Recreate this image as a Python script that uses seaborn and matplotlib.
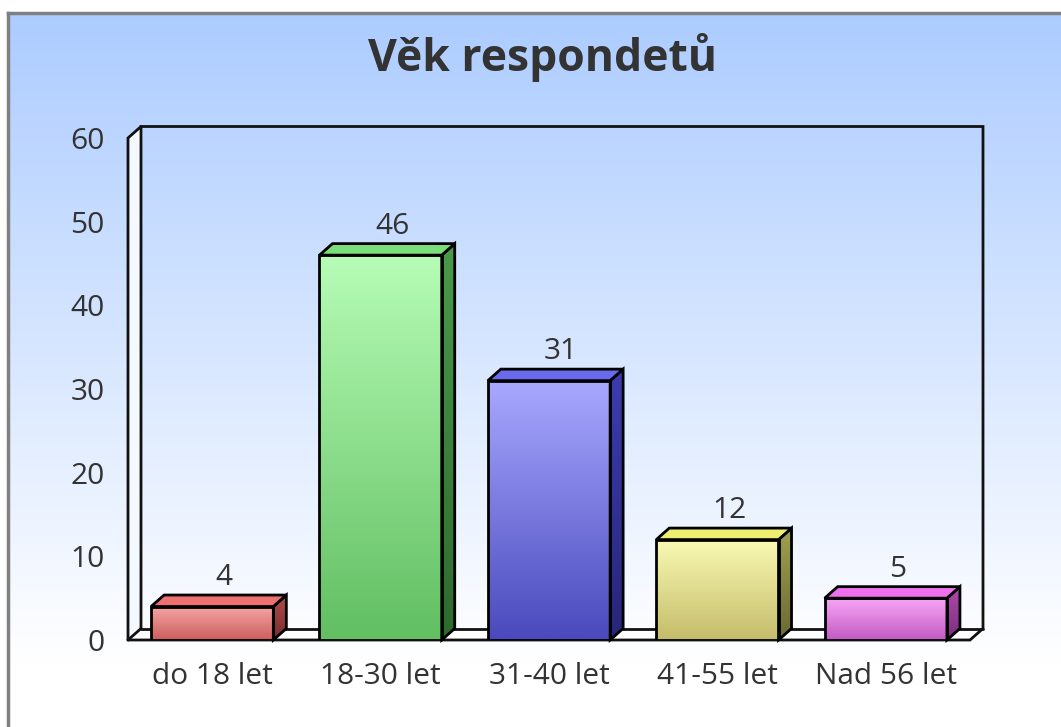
import numpy as np
import pandas as pd
import matplotlib
matplotlib.use("Agg")
import matplotlib.pyplot as plt
import seaborn as sns
from matplotlib.patches import Polygon
from matplotlib.colors import LinearSegmentedColormap

# Data
categories = ["do 18 let", "18-30 let", "31-40 let", "41-55 let", "Nad 56 let"]
values = [4, 46, 31, 12, 5]
title = "Věk respondetů"

# Colours (front top, front bottom, top face, side top, side bottom)
front_top = ["#f6a6a6", "#b6fcb6", "#a8a8ff", "#fafab4", "#f6a6f6"]
front_bot = ["#cc5e5e", "#62bf62", "#4a4abe", "#c4bc6a", "#c45ac4"]
top_face = ["#ee7070", "#7ade7a", "#6a6aee", "#eeee70", "#ee70ee"]
side_top = ["#b04a4a", "#4a9a4a", "#3c3cb0", "#a0a050", "#b04ab0"]
side_bot = ["#7a2e2e", "#2e6a2e", "#26267a", "#6a6a34", "#7a2e7a"]

sns.set_theme(style="white")
plt.rcParams["font.family"] = ["Open Sans", "DejaVu Sans"]
text_col = "#333333"

W, H = 1061, 727
fig = plt.figure(figsize=(W / 100, H / 100), dpi=100)
fig.patch.set_facecolor("white")

# background panel with gradient
bg = fig.add_axes([8 / W, -0.01, 1 - 8 / W + 0.01, (H - 13) / H + 0.01])
top_rgb = np.array([172, 204, 255]) / 255
t = np.linspace(0, 1, 300)
frac = np.clip(t / 0.9, 0, 1)[:, None]
grad = top_rgb * (1 - frac) + np.ones(3) * frac
bg.imshow(grad[:, None, :], aspect="auto", extent=[0, 1, 0, 1], origin="upper")
bg.set_xlim(0, 1)
bg.set_ylim(0, 1)
bg.set_xticks([])
bg.set_yticks([])
for s in ["right", "bottom"]:
    bg.spines[s].set_visible(False)
for s in ["left", "top"]:
    bg.spines[s].set_color("#808080")
    bg.spines[s].set_linewidth(2.5)
bg.set_zorder(0)

# main plot axes (front plane)
ax = fig.add_axes([128 / W, (H - 640) / H, 842 / W, 502 / H])
ax.set_zorder(1)
ax.patch.set_alpha(0)
df = pd.DataFrame({"cat": categories, "val": values})
sns.barplot(data=df, x="cat", y="val", hue="cat", palette=front_top,
            width=0.726, legend=False, edgecolor="black", linewidth=2,
            ax=ax, zorder=5)
ax.set_xlim(-0.5, 4.5)
ax.set_ylim(0, 60)

px_x = 842 / 5
px_y = 502 / 60
dx = 13 / px_x
dy = 11.5 / px_y

# 3D frame: floor, left wall, back wall
x0, x1 = -0.5, 4.5
ax.add_patch(Polygon([(x0, 0), (x1, 0), (x1 + dx, dy), (x0 + dx, dy)],
                     closed=True, facecolor="white", edgecolor="none",
                     clip_on=False, zorder=1))
ax.add_patch(Polygon([(x0, 0), (x0 + dx, dy), (x0 + dx, 60 + dy), (x0, 60)],
                     closed=True, facecolor="#f4f8ff", edgecolor="none",
                     clip_on=False, zorder=1))
line_kw = dict(color="#111111", lw=2, clip_on=False, zorder=2,
               solid_joinstyle="miter")
ax.plot([x0, x1, x1 + dx, x1 + dx, x0 + dx, x0 + dx], [0, 0, dy, 60 + dy, 60 + dy, dy], **line_kw)
ax.plot([x0 + dx, x1 + dx], [dy, dy], **line_kw)
ax.plot([x0, x0, x0 + dx], [0, 60, 60 + dy], **line_kw)
ax.plot([x0, x0 + dx], [0, dy], **line_kw)


def gradient_fill(ax, poly, c_top, c_bot, y_lo, y_hi, xs, z):
    cmap = LinearSegmentedColormap.from_list("g", [c_bot, c_top])
    g = np.linspace(0, 1, 100)[:, None]
    im = ax.imshow(g, cmap=cmap, aspect="auto", origin="lower",
                   extent=[min(xs), max(xs), y_lo, y_hi], zorder=z,
                   clip_on=True)
    im.set_clip_path(poly)


for i, bar in enumerate(ax.patches[:len(values)]):
    x = bar.get_x()
    w = bar.get_width()
    h = bar.get_height()
    # front face gradient
    front = Polygon([(x, 0), (x + w, 0), (x + w, h), (x, h)], closed=True,
                    facecolor="none", edgecolor="none", transform=ax.transData)
    ax.add_patch(front)
    gradient_fill(ax, front, front_top[i], front_bot[i], 0, h, [x, x + w], 5.5)
    bar.set_facecolor("none")
    bar.set_zorder(6)
    # side face
    side = Polygon([(x + w, 0), (x + w + dx, dy), (x + w + dx, h + dy), (x + w, h)],
                   closed=True, facecolor="none", edgecolor="black", lw=2,
                   joinstyle="miter", zorder=6, clip_on=False)
    ax.add_patch(side)
    gradient_fill(ax, side, side_top[i], side_bot[i], 0, h + dy, [x + w, x + w + dx], 5.5)
    # top face
    ax.add_patch(Polygon([(x, h), (x + w, h), (x + w + dx, h + dy), (x + dx, h + dy)],
                         closed=True, facecolor=top_face[i], edgecolor="black",
                         lw=2, joinstyle="miter", zorder=6, clip_on=False))
    ax.text(x + w / 2 + 0.07, h + dy + 2.1, str(values[i]), ha="center",
            va="center", fontsize=21.5, color=text_col, zorder=7)

ax.set_xlim(-0.5, 4.5)
ax.set_ylim(0, 60)
ax.set_yticks(range(0, 61, 10))
ax.set_xlabel("")
ax.set_ylabel("")
ax.tick_params(axis="y", length=0, pad=17, labelsize=21.5, labelcolor=text_col)
ax.tick_params(axis="x", length=0, pad=16, labelsize=21.5, labelcolor=text_col)
for s in ax.spines.values():
    s.set_visible(False)

fig.text(543 / W, 1 - 57 / H, title, ha="center", va="center",
         fontsize=32, fontweight="bold", color=text_col)

fig.savefig("out.png", dpi=100)
